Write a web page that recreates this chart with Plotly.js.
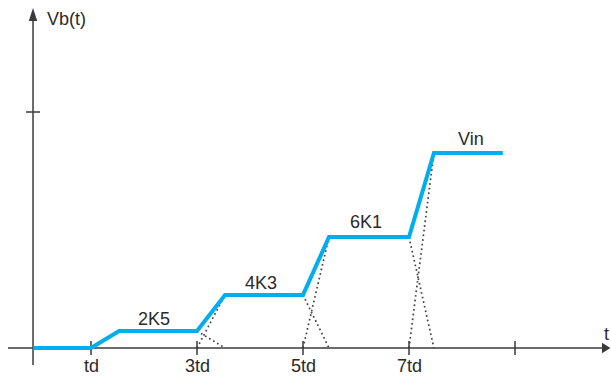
<!DOCTYPE html>
<html>
<head>
<meta charset="utf-8">
<script src="https://cdn.plot.ly/plotly-3.0.1.min.js"></script>
<style>html,body{margin:0;padding:0;background:#fff;}#chart{width:611px;height:378px;}</style>
</head>
<body>
<div id="chart"></div>
<script>
// ---- data (time in units of td, voltage in units of the y-axis tick) ----
var tBegin = -0.094;
var tEnd = 8.77;
var rampStart = [1, 3, 5, 7];
var rampEnd = [1.53, 3.53, 5.49, 7.47];
var levels = [0, 0.072, 0.225, 0.47, 0.826];
var levelLabels = ["2K5", "4K3", "6K1", "Vin"];
var labelT = [2.189, 4.208, 6.189, 8.170];
var labelV = [0.123, 0.275, 0.534, 0.886];
var xTickVals = [1, 3, 5, 7, 9];
var xTickText = ["td", "3td", "5td", "7td", ""];
var yTickVals = [1.0];

// ---- build the waveform ----
var tx = [tBegin], vy = [levels[0]];
for (var i = 0; i < rampStart.length; i++) {
  tx.push(rampStart[i]); vy.push(levels[i]);
  tx.push(rampEnd[i]); vy.push(levels[i + 1]);
}
tx.push(tEnd); vy.push(levels[levels.length - 1]);

var AX = '#3a3a3a', TXT = '#2a2a2a', FONT = 'Liberation Sans, Arial, sans-serif';
var traces = [];

// dotted crossing ramps (from the second step onward)
for (var k = 1; k < rampStart.length; k++) {
  traces.push({x: [rampStart[k], rampEnd[k]], y: [0, levels[k + 1]], mode: 'lines',
    line: {color: '#444', width: 1.7, dash: '1.7px,3px'}, hoverinfo: 'skip'});
  traces.push({x: [rampStart[k], rampEnd[k]], y: [levels[k], 0], mode: 'lines',
    line: {color: '#444', width: 1.7, dash: '1.7px,3px'}, hoverinfo: 'skip'});
}

// axes
var xAxisStart = -0.566, xAxisArrowBase = 10.642, xAxisTip = 10.80;
var yAxisStart = -0.072, yAxisArrowBase = 1.386, yAxisTip = 1.441;
traces.push({x: [xAxisStart, xAxisArrowBase], y: [0, 0], mode: 'lines', line: {color: AX, width: 1.5}, hoverinfo: 'skip'});
traces.push({x: [tBegin, tBegin], y: [yAxisStart, yAxisArrowBase], mode: 'lines', line: {color: AX, width: 1.5}, hoverinfo: 'skip'});

// ticks
xTickVals.forEach(function (v) {
  traces.push({x: [v, v], y: [0.03, -0.03], mode: 'lines', line: {color: AX, width: 1.5}, hoverinfo: 'skip'});
});
yTickVals.forEach(function (v) {
  traces.push({x: [-0.226, 0.038], y: [v, v], mode: 'lines', line: {color: AX, width: 1.5}, hoverinfo: 'skip'});
});

// waveform
traces.push({x: tx, y: vy, mode: 'lines', line: {color: '#00aeef', width: 4}, hoverinfo: 'skip'});

var shapes = [
  {type: 'path', xref: 'x', yref: 'y', fillcolor: AX, line: {width: 0},
   path: 'M' + xAxisArrowBase + ',0.022 L' + xAxisTip + ',0 L' + xAxisArrowBase + ',-0.022 Z'},
  {type: 'path', xref: 'x', yref: 'y', fillcolor: AX, line: {width: 0},
   path: 'M' + (tBegin - 0.08) + ',' + yAxisArrowBase + ' L' + tBegin + ',' + yAxisTip + ' L' + (tBegin + 0.08) + ',' + yAxisArrowBase + ' Z'}
];

var annotations = [];
function lab(text, x, y) {
  annotations.push({text: text, x: x, y: y, xref: 'x', yref: 'y', showarrow: false,
    xanchor: 'center', yanchor: 'middle', font: {family: FONT, size: 18, color: TXT}});
}
for (var j = 0; j < levelLabels.length; j++) lab(levelLabels[j], labelT[j], labelV[j]);
xTickVals.forEach(function (v, i) { if (xTickText[i]) lab(xTickText[i], v, -0.076); });
lab('Vb(t)', 0.538, 1.396);
lab('t', 10.717, 0.059);

var layout = {
  width: 611, height: 378, margin: {l: 0, r: 0, t: 0, b: 0},
  paper_bgcolor: '#fff', plot_bgcolor: '#fff', showlegend: false,
  xaxis: {range: [-38 / 53, 573 / 53], visible: false, fixedrange: true},
  yaxis: {range: [-30 / 236, 348 / 236], visible: false, fixedrange: true},
  shapes: shapes, annotations: annotations
};
Plotly.newPlot('chart', traces, layout, {staticPlot: true, displayModeBar: false});
</script>
</body>
</html>
